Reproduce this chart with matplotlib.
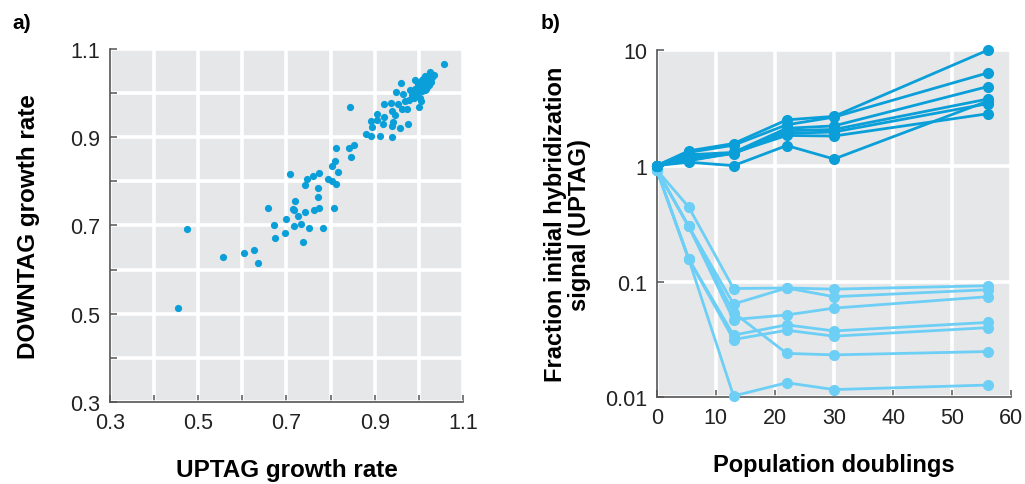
import matplotlib.pyplot as plt

plt.rcParams['font.family'] = ['Liberation Sans', 'DejaVu Sans']

# Panel a: growth rate measured from UPTAG vs DOWNTAG
uptag = [0.454, 0.474, 0.557, 0.604, 0.626, 0.635, 0.659, 0.672, 0.674, 0.696,
         0.699, 0.708, 0.715, 0.717, 0.716, 0.720, 0.726, 0.733, 0.738, 0.741,
         0.741, 0.747, 0.750, 0.761, 0.762, 0.771, 0.771, 0.773, 0.774, 0.783,
         0.795, 0.803, 0.804, 0.808, 0.810, 0.813, 0.813, 0.817, 0.841, 0.845,
         0.846, 0.854, 0.880, 0.891, 0.892, 0.894, 0.905, 0.906, 0.911, 0.919,
         0.920, 0.922, 0.937, 0.938, 0.938, 0.940, 0.942, 0.946, 0.949, 0.952,
         0.958, 0.960, 0.962, 0.964, 0.968, 0.973, 0.975, 0.977, 0.980, 0.984,
         0.989, 0.992, 0.995, 0.998, 1.001, 1.002, 1.004, 1.005, 1.007, 1.009,
         1.011, 1.013, 1.014, 1.017, 1.018, 1.020, 1.022, 1.024, 1.026, 1.027,
         1.035, 1.056, 0.999, 1.003, 0.992, 1.006, 1.010, 1.015, 1.019, 1.023,
         1.012, 1.008, 0.996, 1.001, 1.016, 1.021, 1.028, 1.030]
downtag = [0.513, 0.692, 0.628, 0.638, 0.644, 0.614, 0.740, 0.701, 0.672, 0.683,
           0.715, 0.817, 0.738, 0.735, 0.698, 0.756, 0.721, 0.704, 0.662, 0.731,
           0.791, 0.805, 0.695, 0.813, 0.734, 0.786, 0.765, 0.820, 0.740, 0.695,
           0.805, 0.835, 0.801, 0.740, 0.847, 0.875, 0.795, 0.821, 0.876, 0.969,
           0.856, 0.883, 0.908, 0.937, 0.903, 0.924, 0.953, 0.939, 0.902, 0.930,
           0.947, 0.976, 0.977, 0.925, 0.900, 0.959, 0.934, 0.950, 1.002, 0.975,
           0.921, 1.023, 0.963, 0.998, 0.983, 0.964, 0.931, 0.985, 1.008, 0.995,
           0.989, 1.029, 1.002, 1.017, 0.969, 0.989, 0.983, 1.025, 1.010, 1.032,
           1.017, 1.008, 1.038, 1.023, 1.014, 1.029, 1.040, 1.019, 1.047, 1.025,
           1.041, 1.065, 1.021, 1.014, 1.010, 1.030, 1.020, 1.028, 1.033, 1.036,
           1.025, 1.004, 1.000, 1.012, 1.010, 1.022, 1.034, 1.036]

# Panel b: fraction of initial hybridization signal over population doublings
doublings = [0, 5.4, 13, 22, 30, 56]
rising = [
    [1.0, 1.34, 1.55, 2.48, 2.66, 9.9],
    [1.0, 1.30, 1.50, 2.25, 2.62, 6.3],
    [1.0, 1.24, 1.30, 2.10, 2.20, 4.8],
    [1.0, 1.18, 1.29, 2.00, 2.05, 3.75],
    [1.0, 1.12, 1.27, 1.90, 1.95, 3.42],
    [1.0, 1.07, 1.00, 1.49, 1.14, 3.60],
    [1.0, 1.10, 1.29, 1.82, 1.80, 2.80],
]
falling = [
    [0.92, 0.44, 0.087, 0.088, 0.086, 0.092],
    [0.92, 0.30, 0.064, 0.088, 0.074, 0.085],
    [0.92, 0.30, 0.054, 0.024, 0.0233, 0.0249],
    [0.92, 0.30, 0.047, 0.0515, 0.059, 0.074],
    [0.92, 0.157, 0.0345, 0.0423, 0.0375, 0.0444],
    [0.92, 0.157, 0.0316, 0.038, 0.0338, 0.040],
    [0.92, 0.157, 0.0103, 0.0134, 0.0117, 0.0128],
]

dark = '#0a9fd8'
light = '#6dcff6'
panel_bg = '#e6e7e8'
axis_col = '#555555'


def style_axes(ax):
    ax.set_facecolor(panel_bg)
    ax.set_axisbelow(True)
    for side in ['top', 'right']:
        ax.spines[side].set_visible(False)
    for side in ['left', 'bottom']:
        ax.spines[side].set_color(axis_col)
        ax.spines[side].set_linewidth(1.2)
    ax.tick_params(direction='in', length=5, width=1.1, color=axis_col,
                   labelsize=15.5, labelcolor='#222222', pad=7)
    ax.grid(True, color='white', linewidth=2.6)


fig = plt.figure(figsize=(10.25, 4.85), dpi=100)

# ---- panel a ----
ax1 = fig.add_axes([0.1073, 0.1691, 0.3444, 0.7278])
style_axes(ax1)
ax1.scatter(uptag, downtag, s=27, color=dark, linewidths=0, zorder=3)
ax1.set_xlim(0.3, 1.1)
ax1.set_ylim(0.3, 1.1)
ticks = [0.3, 0.4, 0.5, 0.6, 0.7, 0.8, 0.9, 1.0, 1.1]
tick_labels = ['0.3', '', '0.5', '', '0.7', '', '0.9', '', '1.1']
ax1.set_xticks(ticks)
ax1.set_xticklabels(tick_labels)
ax1.set_yticks(ticks)
ax1.set_yticklabels(tick_labels)
ax1.set_xlabel('UPTAG growth rate', fontsize=17.5, fontweight='bold', labelpad=18)
ax1.set_ylabel('DOWNTAG growth rate', fontsize=17.5, fontweight='bold', labelpad=22)

# ---- panel b ----
ax2 = fig.add_axes([0.6407, 0.1784, 0.3459, 0.7171])
style_axes(ax2)
for vals in falling:
    ax2.plot(doublings, vals, color=light, linewidth=2.0, marker='o',
             markersize=7, zorder=3, clip_on=False)
for vals in rising:
    ax2.plot(doublings, vals, color=dark, linewidth=2.0, marker='o',
             markersize=7, zorder=4, clip_on=False)
ax2.set_yscale('log')
ax2.set_xlim(0, 60)
ax2.set_ylim(0.01, 10)
ax2.set_xticks([0, 10, 20, 30, 40, 50, 60])
ax2.set_yticks([0.01, 0.1, 1, 10])
ax2.set_yticklabels(['0.01', '0.1', '1', '10'])
ax2.minorticks_off()
ax2.set_xlabel('Population doublings', fontsize=17, fontweight='bold', labelpad=18)
ax2.set_ylabel('Fraction initial hybridization\nsignal (UPTAG)', fontsize=17,
               fontweight='bold', labelpad=10, linespacing=1.05)

fig.text(0.012, 0.94, 'a)', fontsize=15, fontweight='bold')
fig.text(0.527, 0.94, 'b)', fontsize=15, fontweight='bold')

fig.savefig('out.png', dpi=100)
